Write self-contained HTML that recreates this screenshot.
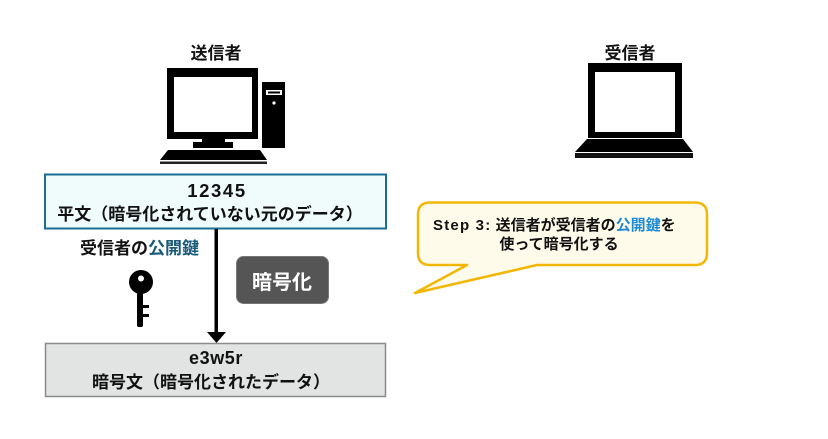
<!DOCTYPE html>
<html><head><meta charset="utf-8"><style>
html,body{margin:0;padding:0;background:#fff;}
svg{display:block;}
text{font-family:"Liberation Sans","Noto Sans CJK JP",sans-serif;font-weight:bold;}
</style></head><body>
<svg width="828" height="439" viewBox="0 0 828 439" xmlns="http://www.w3.org/2000/svg">
<rect width="828" height="439" fill="#fff"/>
<!-- sender title -->
<text x="216" y="59" font-size="17" text-anchor="middle" fill="#111">送信者</text>
<!-- desktop monitor -->
<rect x="167" y="68" width="91" height="71" fill="#000"/>
<rect x="174" y="77" width="78" height="55" fill="#fff"/>
<rect x="202" y="138" width="23" height="5" fill="#000"/>
<rect x="193" y="142" width="40" height="6" fill="#000"/>
<!-- tower -->
<rect x="262" y="82" width="23" height="66" fill="#000"/>
<rect x="266" y="90" width="16" height="5" fill="#fff"/>
<rect x="268" y="91.5" width="12" height="2" fill="#000"/>
<circle cx="274" cy="103" r="1.6" fill="#fff"/>
<!-- keyboard -->
<polygon points="168,150 260,150 267,160 160,160" fill="#000"/>
<rect x="160" y="161.5" width="107" height="2.5" fill="#222"/>

<!-- receiver title -->
<text x="630" y="59" font-size="17" text-anchor="middle" fill="#111">受信者</text>
<!-- laptop -->
<rect x="588" y="63" width="94" height="75" fill="#000"/>
<rect x="595" y="72" width="80" height="60" fill="#fff"/>
<polygon points="587,139 683,139 693,152 575,152" fill="#000"/>
<rect x="575" y="153" width="118" height="5" fill="#111"/>

<!-- plaintext box -->
<rect x="45" y="174.5" width="341" height="54" fill="#effcfb" stroke="#1a6d94" stroke-width="2"/>
<text x="217" y="197" font-size="18.5" text-anchor="middle" fill="#111" letter-spacing="1.6">12345</text>
<text x="210" y="220" font-size="17" text-anchor="middle" fill="#111">平文（暗号化されていない元のデータ）</text>

<!-- arrow -->
<rect x="214.5" y="229" width="3.5" height="104" fill="#000"/>
<polygon points="207,332 226,332 216.5,343" fill="#000"/>

<!-- public key label -->
<text x="80" y="254" font-size="17" fill="#111">受信者の<tspan fill="#1a5a7a">公開鍵</tspan></text>

<!-- key icon -->
<circle cx="141" cy="282" r="12" fill="#000"/>
<circle cx="141" cy="278.5" r="3" fill="#fff"/>
<rect x="137" y="288" width="6" height="39" rx="2" fill="#000"/>
<rect x="142" y="305" width="7" height="3" fill="#000"/>
<rect x="142" y="314" width="7" height="3" fill="#000"/>

<!-- encrypt button -->
<rect x="236.5" y="256.5" width="92" height="47" rx="7" fill="#555" stroke="#777" stroke-width="1"/>
<text x="282" y="289" font-size="20" text-anchor="middle" fill="#fff">暗号化</text>

<!-- ciphertext box -->
<rect x="45.5" y="343.5" width="340" height="53" fill="#e1e4e3" stroke="#8a8a8a" stroke-width="1.5"/>
<text x="216" y="364" font-size="18" text-anchor="middle" fill="#111" letter-spacing="0.6">e3w5r</text>
<text x="211" y="388" font-size="17" text-anchor="middle" fill="#111">暗号文（暗号化されたデータ）</text>

<!-- callout -->
<path d="M430,202.5 H695 Q707,202.5 707,214.5 V253 Q707,265 695,265 H537 L415,293 L467,265 H430 Q418,265 418,253 V214.5 Q418,202.5 430,202.5 Z" fill="#fffbea" stroke="#f2b705" stroke-width="2.5" stroke-linejoin="round"/>
<text x="433" y="230" font-size="15" fill="#111"><tspan letter-spacing="1.2">Step 3:</tspan> 送信者が受信者の<tspan fill="#1e8ad6">公開鍵</tspan>を</text>
<text x="559" y="249" font-size="15" text-anchor="middle" fill="#111">使って暗号化する</text>
</svg>
</body></html>
